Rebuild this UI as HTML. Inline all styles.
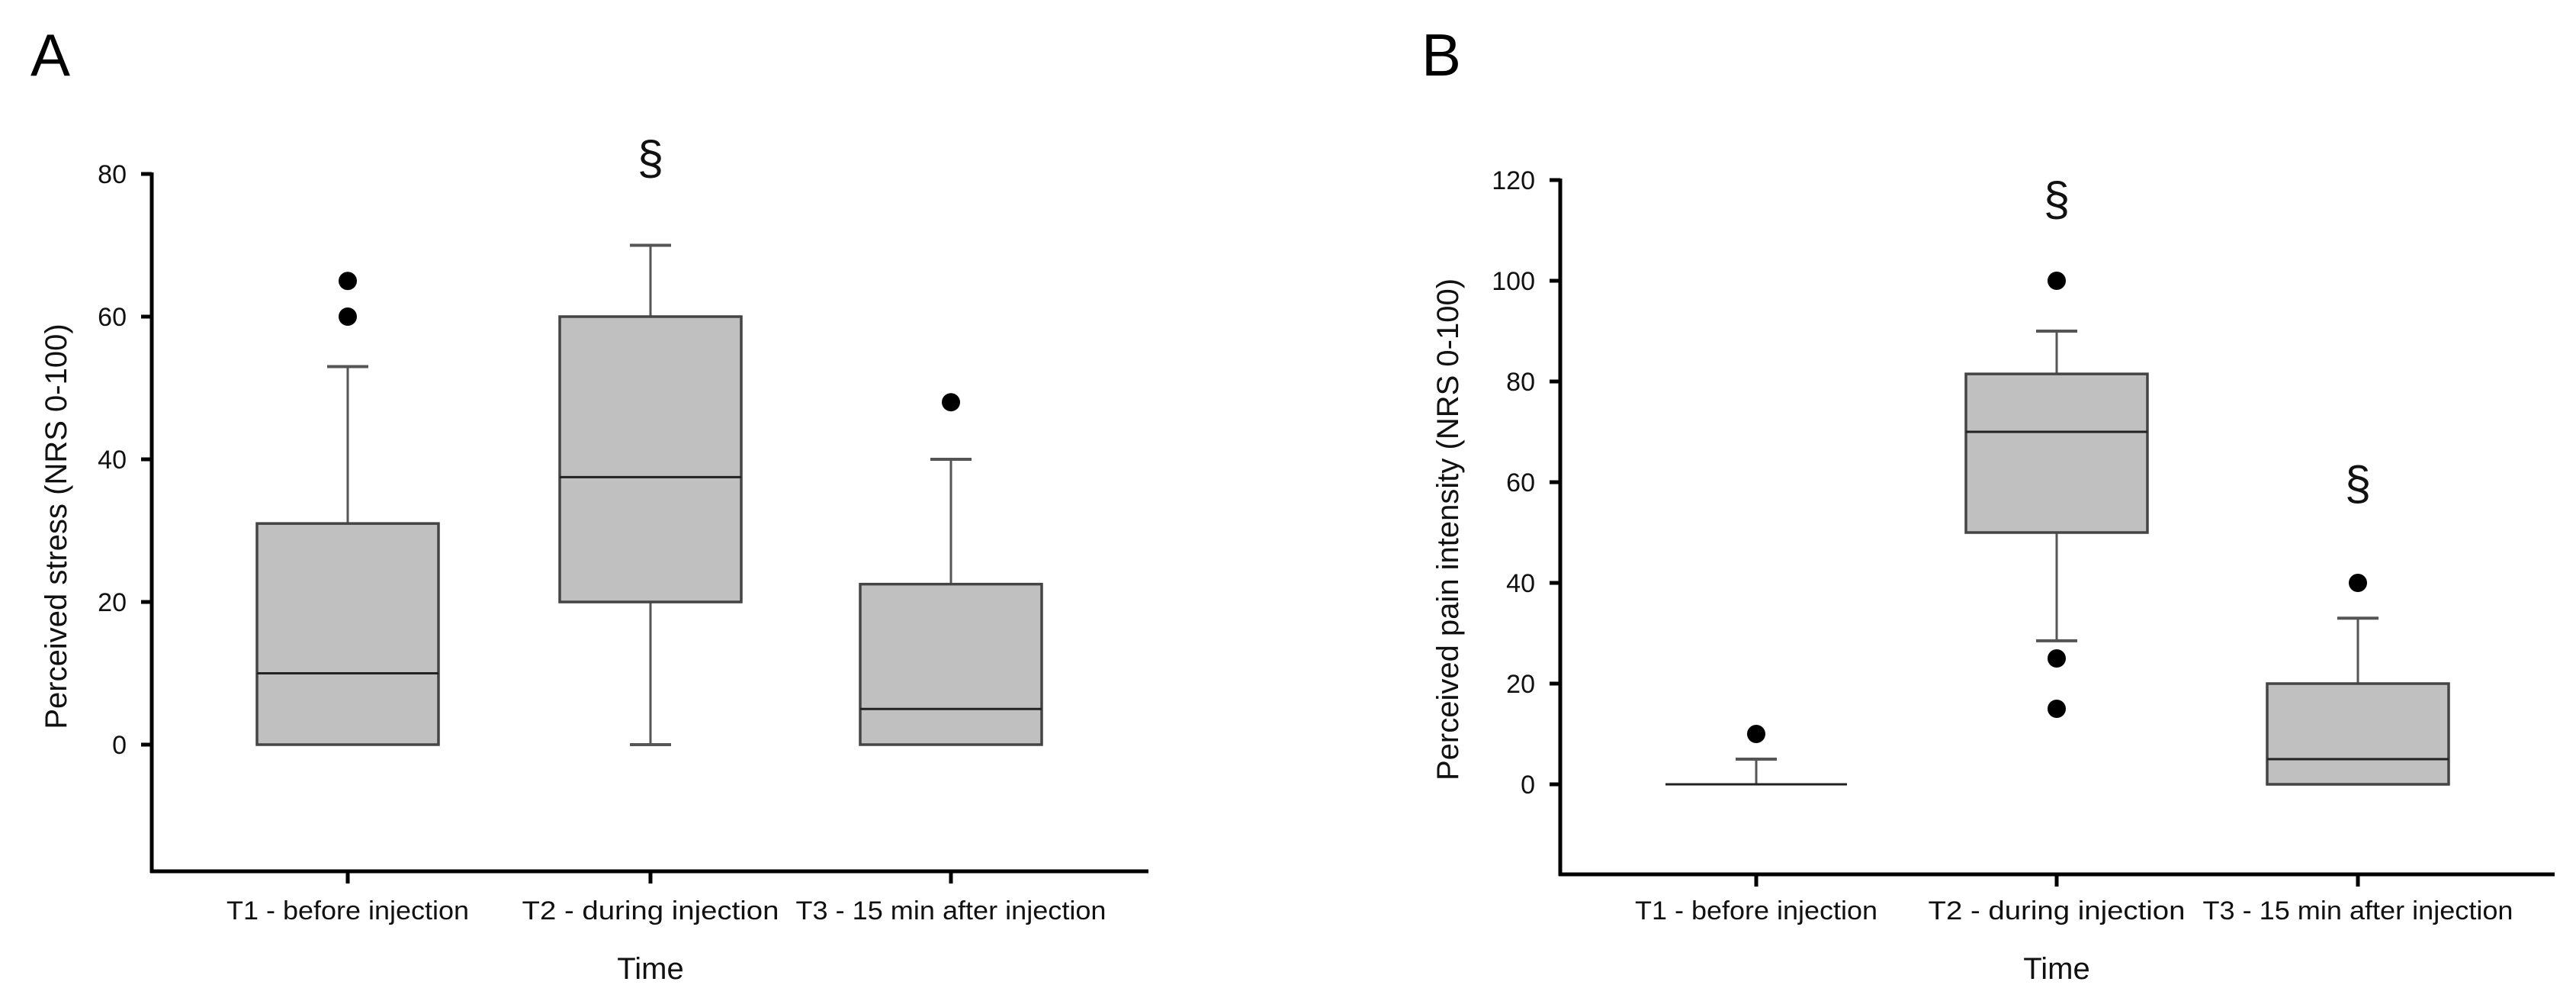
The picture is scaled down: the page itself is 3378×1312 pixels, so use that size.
<!DOCTYPE html>
<html><head><meta charset="utf-8"><style>
html,body{margin:0;padding:0;background:#fff;}
svg{display:block;font-family:"Liberation Sans",Arial,sans-serif;}
</style></head><body>
<svg id="fig" width="3378" height="1312" viewBox="0 0 3378 1312" xmlns="http://www.w3.org/2000/svg"></svg>
<script>
const categories = ["T1 - before injection","T2 - during injection","T3 - 15 min after injection"];
const stressQ1 = [0, 20, 0];
const stressMedian = [10, 37.5, 5];
const stressQ3 = [31, 60, 22.5];
const stressLow = [0, 0, 0];
const stressHigh = [53, 70, 40];
const stressOutliers = [[60, 65], [], [48]];
const stressMarks = [null, 82.8, null];
const stressTicks = [0, 20, 40, 60, 80];

const painQ1 = [0, 50, 0];
const painMedian = [0, 70, 5];
const painQ3 = [0, 81.5, 20];
const painLow = [0, 28.5, 0];
const painHigh = [5, 90, 33];
const painOutliers = [[10], [100, 25, 15], [40]];
const painMarks = [null, 117, 60.5];
const painTicks = [0, 20, 40, 60, 80, 100, 120];

const NS = "http://www.w3.org/2000/svg";
const svg = document.getElementById('fig');
function mk(tag, attrs, parent){
  const e = document.createElementNS(NS, tag);
  for (const k in attrs) e.setAttribute(k, attrs[k]);
  (parent||svg).appendChild(e);
  return e;
}

function panel(cfg){
  const g = mk('g', {});
  
  
  const y = v => cfg.y0 - (v - 0) * cfg.ppu;
  const x = i => cfg.xs[i];
  // letter
  const L = mk('text', {x: cfg.letterX, y: 99, 'font-size': 78, fill: '#000'}, g);
  L.textContent = cfg.letter;
  
  
  // axes
  const yb = cfg.yBottom;
  const ya = mk('line', {x1: cfg.ax, y1: y(cfg.ticks[cfg.ticks.length-1]) - 2, x2: cfg.ax, y2: yb + 2, stroke: '#000', 'stroke-width': 5}, g);
  
  
  const xa = mk('line', {x1: cfg.ax - 2, y1: yb, x2: cfg.axEnd, y2: yb, stroke: '#000', 'stroke-width': 5}, g);
  
  
  cfg.ticks.forEach(t => {
    const tl = mk('line', {x1: cfg.ax - 14, y1: y(t), x2: cfg.ax, y2: y(t), stroke: '#000', 'stroke-width': 5}, g);
    
    
    const tt = mk('text', {x: cfg.ax - 33, y: y(t) + 12, 'font-size': 34, 'text-anchor': 'end', fill: '#111'}, g);
    tt.textContent = String(t);
    
    
  });
  const yt = mk('text', {x: 0, y: 0, 'font-size': 40, 'text-anchor': 'middle', fill: '#111', transform: `translate(${cfg.ytX},${cfg.ytY}) rotate(-90)`}, g);
  yt.textContent = cfg.yTitle;
  
  
  const xt = mk('text', {x: x(1), y: 1283, 'font-size': 40, 'text-anchor': 'middle', fill: '#111'}, g);
  xt.textContent = 'Time';
  
  
  const bw = 238;
  categories.forEach((c, i) => {
    const tk = mk('line', {x1: x(i), y1: yb, x2: x(i), y2: yb + 16, stroke: '#000', 'stroke-width': 5}, g);
    
    
    const lab = mk('text', {x: x(i), y: 1205, 'font-size': 34, 'text-anchor': 'middle', fill: '#111', textLength: cfg.labW[i], lengthAdjust: 'spacingAndGlyphs'}, g);
    lab.textContent = c;
    
    
    // whiskers
    const wl = mk('line', {x1: x(i), y1: y(cfg.high[i]), x2: x(i), y2: y(cfg.low[i]), stroke: '#555', 'stroke-width': 3}, g);
    
    
    if (cfg.high[i] > cfg.q3[i]) {
      const cap = mk('line', {x1: x(i) - 27, y1: y(cfg.high[i]), x2: x(i) + 27, y2: y(cfg.high[i]), stroke: '#555', 'stroke-width': 4}, g);
      
      
    }
    if (cfg.low[i] < cfg.q1[i]) {
      const cap = mk('line', {x1: x(i) - 27, y1: y(cfg.low[i]), x2: x(i) + 27, y2: y(cfg.low[i]), stroke: '#555', 'stroke-width': 4}, g);
      
      
    }
    const h = y(cfg.q1[i]) - y(cfg.q3[i]);
    if (h > 0.5) {
      const bx = mk('rect', {x: x(i) - bw/2, y: y(cfg.q3[i]), width: bw, height: h, fill: '#c0c0c0', stroke: '#444', 'stroke-width': 3.5}, g);
      
      
    }
    const md = mk('line', {x1: x(i) - bw/2, y1: y(cfg.med[i]), x2: x(i) + bw/2, y2: y(cfg.med[i]), stroke: '#222', 'stroke-width': 3}, g);
    
    
    cfg.out[i].forEach(v => {
      const d = mk('circle', {cx: x(i), cy: y(v), r: 12, fill: '#000'}, g);
      
      
    });
    if (cfg.marks[i] !== null) {
      const s = mk('text', {x: x(i), y: y(cfg.marks[i]) + 26, 'font-size': 62, 'text-anchor': 'middle', fill: '#111'}, g);
      s.textContent = '§';
      
      
    }
  });
}

panel({name: 'panel-a-stress', letter: 'A', letterX: 40, ax: 199, axEnd: 1506, y0: 976, ppu: 9.35, yBottom: 1142,
  xs: [456, 853, 1247], ticks: stressTicks, yTitle: 'Perceived stress (NRS 0-100)', ytX: 87, ytY: 690,
  labW: [318, 337, 407],
  q1: stressQ1, med: stressMedian, q3: stressQ3, low: stressLow, high: stressHigh, out: stressOutliers, marks: stressMarks});
panel({name: 'panel-b-pain', letter: 'B', letterX: 1864, ax: 2046, axEnd: 3350, y0: 1028, ppu: 6.6, yBottom: 1146,
  xs: [2303, 2697, 3092], ticks: painTicks, yTitle: 'Perceived pain intensity (NRS 0-100)', ytX: 1912, ytY: 694,
  labW: [318, 337, 407],
  q1: painQ1, med: painMedian, q3: painQ3, low: painLow, high: painHigh, out: painOutliers, marks: painMarks});
</script>
</body></html>
